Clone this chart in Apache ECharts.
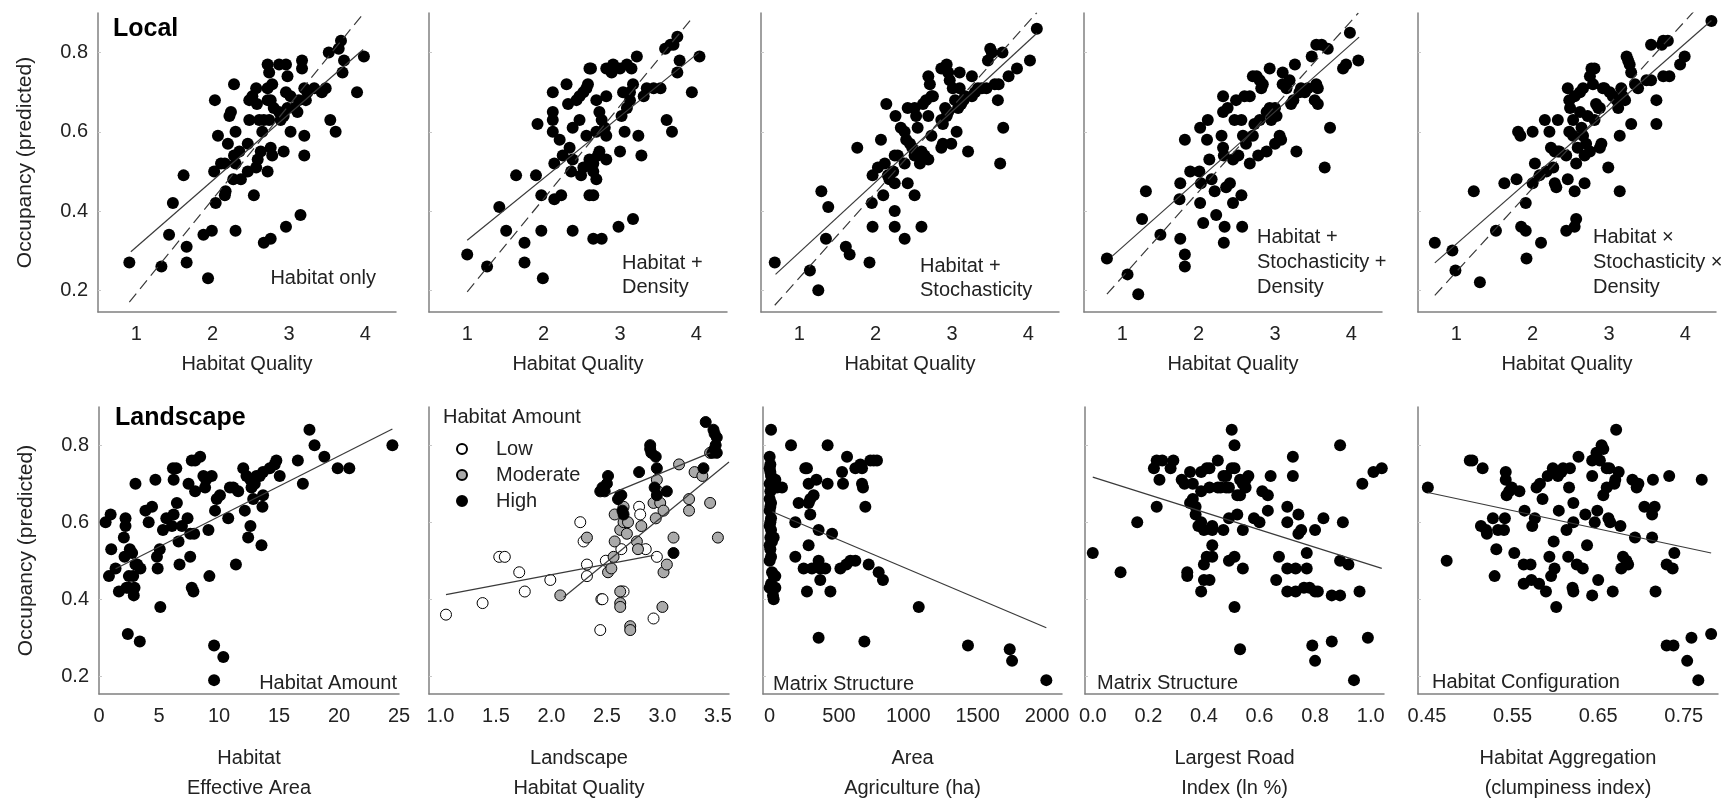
<!DOCTYPE html>
<html><head><meta charset="utf-8">
<script src="https://cdn.jsdelivr.net/npm/echarts@6/dist/echarts.min.js"></script>
<style>html,body{margin:0;padding:0;background:#fff}#c{width:1728px;height:804px}</style>
</head><body><div id="c"></div>
<script>
// ---------- tick labels ----------
const hqTicks = [1, 2, 3, 4];
const occTicks = [0.2, 0.4, 0.6, 0.8];
const effAreaTicks = [0, 5, 10, 15, 20, 25];
const landHQTicks = [1.0, 1.5, 2.0, 2.5, 3.0, 3.5];
const agriTicks = [0, 500, 1000, 1500, 2000];
const roadTicks = [0.0, 0.2, 0.4, 0.6, 0.8, 1.0];
const clumpTicks = [0.45, 0.55, 0.65, 0.75];

// ---------- Local: Habitat only ----------
const habitatOnly = [[0.91,0.27],[1.33,0.26],[1.43,0.34],[1.48,0.42],[1.62,0.49],[1.66,0.31],[1.66,0.27],[1.94,0.23],[1.88,0.34],[1.99,0.35],[2.30,0.35],[2.04,0.42],[2.03,0.68],[2.07,0.59],[2.02,0.50],[2.11,0.52],[2.16,0.52],[2.17,0.45],[2.16,0.44],[2.20,0.57],[2.22,0.64],[2.24,0.65],[2.28,0.72],[2.30,0.60],[2.28,0.54],[2.30,0.52],[2.35,0.55],[2.27,0.48],[2.37,0.48],[2.46,0.50],[2.48,0.68],[2.48,0.63],[2.46,0.57],[2.52,0.69],[2.57,0.71],[2.58,0.67],[2.61,0.63],[2.54,0.44],[2.57,0.51],[2.59,0.53],[2.63,0.55],[2.65,0.60],[2.67,0.63],[2.72,0.71],[2.72,0.68],[2.74,0.63],[2.78,0.72],[2.76,0.68],[2.80,0.66],[2.72,0.77],[2.74,0.75],[2.76,0.56],[2.78,0.54],[2.72,0.50],[2.67,0.32],[2.76,0.33],[2.87,0.77],[2.96,0.77],[2.98,0.74],[2.96,0.70],[2.87,0.65],[2.89,0.63],[2.93,0.64],[2.98,0.66],[3.02,0.69],[3.07,0.66],[3.11,0.65],[3.13,0.68],[3.02,0.60],[2.93,0.55],[2.96,0.36],[3.15,0.39],[3.17,0.78],[3.17,0.76],[3.20,0.71],[3.22,0.68],[3.24,0.70],[3.20,0.59],[3.20,0.54],[3.33,0.71],[3.43,0.70],[3.48,0.71],[3.52,0.80],[3.65,0.81],[3.68,0.83],[3.72,0.78],[3.70,0.75],[3.54,0.63],[3.61,0.60],[3.89,0.70],[3.98,0.79]];
const habitatOnlyFit = [[0.93,0.297],[3.97,0.808]];
const habitatOnlyRef = [[0.91,0.17],[3.97,0.898]];

// ---------- Local: Habitat + Density ----------
const habitatDensity = [[1.00,0.29],[1.26,0.26],[1.51,0.35],[1.42,0.41],[1.64,0.49],[1.75,0.32],[1.75,0.27],[1.90,0.49],[1.97,0.44],[1.97,0.35],[1.99,0.23],[2.12,0.70],[2.12,0.65],[2.12,0.63],[1.92,0.62],[2.12,0.60],[2.14,0.52],[2.14,0.43],[2.23,0.44],[2.21,0.58],[2.25,0.54],[2.30,0.72],[2.32,0.67],[2.34,0.56],[2.38,0.53],[2.36,0.50],[2.38,0.61],[2.38,0.35],[2.43,0.68],[2.47,0.69],[2.47,0.63],[2.49,0.49],[2.52,0.70],[2.56,0.71],[2.58,0.72],[2.60,0.76],[2.62,0.76],[2.56,0.59],[2.52,0.51],[2.60,0.53],[2.65,0.52],[2.65,0.50],[2.69,0.48],[2.65,0.44],[2.60,0.44],[2.69,0.68],[2.69,0.60],[2.73,0.65],[2.76,0.63],[2.80,0.61],[2.82,0.69],[2.82,0.59],[2.82,0.53],[2.73,0.55],[2.71,0.54],[2.65,0.33],[2.76,0.33],[2.82,0.76],[2.91,0.77],[2.89,0.75],[3.00,0.76],[3.04,0.70],[3.02,0.64],[3.09,0.66],[3.06,0.60],[3.00,0.55],[2.98,0.36],[3.17,0.38],[3.09,0.77],[3.15,0.76],[3.22,0.79],[3.13,0.68],[3.17,0.72],[3.13,0.70],[3.24,0.59],[3.28,0.54],[3.31,0.69],[3.35,0.71],[3.44,0.71],[3.53,0.71],[3.61,0.63],[3.68,0.60],[3.59,0.81],[3.66,0.82],[3.70,0.82],[3.75,0.84],[3.78,0.78],[3.75,0.75],[3.94,0.70],[4.04,0.79]];
const habitatDensityFit = [[1.00,0.326],[4.03,0.80]];
const habitatDensityRef = [[1.00,0.196],[3.93,0.884]];

// ---------- Local: Habitat + Stochasticity ----------
const habitatStoch = [[0.68,0.27],[1.14,0.25],[1.25,0.20],[1.29,0.45],[1.38,0.41],[1.35,0.33],[1.61,0.31],[1.66,0.29],[1.92,0.27],[1.76,0.56],[1.96,0.36],[1.95,0.42],[1.96,0.49],[2.07,0.58],[2.10,0.44],[2.03,0.51],[2.12,0.52],[2.14,0.67],[2.16,0.49],[2.18,0.48],[2.23,0.50],[2.25,0.47],[2.25,0.40],[2.25,0.36],[2.25,0.54],[2.26,0.64],[2.29,0.54],[2.33,0.61],[2.38,0.52],[2.38,0.33],[2.38,0.60],[2.40,0.58],[2.42,0.66],[2.42,0.47],[2.45,0.57],[2.48,0.56],[2.51,0.44],[2.51,0.66],[2.53,0.64],[2.51,0.54],[2.55,0.61],[2.58,0.52],[2.60,0.55],[2.64,0.54],[2.69,0.53],[2.62,0.67],[2.66,0.68],[2.69,0.64],[2.69,0.74],[2.71,0.72],[2.73,0.59],[2.73,0.69],[2.75,0.69],[2.60,0.36],[2.86,0.56],[2.88,0.57],[2.91,0.66],[2.86,0.63],[2.88,0.62],[2.93,0.64],[2.95,0.65],[2.86,0.76],[2.93,0.77],[2.95,0.75],[2.99,0.57],[2.97,0.73],[3.01,0.71],[3.04,0.68],[3.06,0.60],[3.08,0.66],[3.10,0.71],[3.10,0.75],[3.12,0.67],[3.15,0.68],[3.17,0.69],[3.21,0.55],[3.26,0.74],[3.26,0.69],[3.30,0.70],[3.34,0.71],[3.39,0.71],[3.45,0.71],[3.47,0.78],[3.50,0.81],[3.52,0.80],[3.56,0.72],[3.61,0.72],[3.60,0.68],[3.63,0.52],[3.67,0.61],[3.66,0.80],[3.74,0.74],[3.85,0.76],[4.02,0.78],[4.11,0.86]];
const habitatStochFit = [[0.69,0.24],[4.11,0.849]];
const habitatStochRef = [[0.68,0.162],[4.11,0.901]];

// ---------- Local: Habitat + Stochasticity + Density ----------
const habitatStochDensity = [[0.80,0.28],[1.07,0.24],[1.21,0.19],[1.31,0.45],[1.26,0.38],[1.50,0.34],[1.76,0.33],[1.82,0.29],[1.82,0.26],[1.82,0.58],[1.76,0.47],[1.75,0.43],[1.89,0.50],[2.01,0.50],[2.02,0.61],[2.03,0.47],[2.06,0.37],[2.02,0.42],[2.11,0.58],[2.12,0.63],[2.14,0.53],[2.17,0.48],[2.21,0.45],[2.23,0.39],[2.30,0.59],[2.32,0.69],[2.32,0.65],[2.32,0.56],[2.33,0.54],[2.34,0.36],[2.33,0.32],[2.36,0.46],[2.38,0.66],[2.41,0.47],[2.45,0.53],[2.45,0.42],[2.47,0.63],[2.49,0.68],[2.52,0.54],[2.56,0.63],[2.56,0.44],[2.57,0.36],[2.58,0.59],[2.60,0.69],[2.67,0.69],[2.62,0.57],[2.67,0.52],[2.71,0.59],[2.71,0.74],[2.73,0.62],[2.76,0.74],[2.78,0.54],[2.80,0.73],[2.82,0.71],[2.84,0.72],[2.80,0.63],[2.89,0.55],[2.89,0.65],[2.93,0.66],[2.93,0.76],[2.95,0.63],[2.97,0.65],[3.00,0.66],[3.00,0.57],[3.02,0.64],[3.06,0.59],[3.08,0.58],[3.10,0.75],[3.10,0.72],[3.15,0.71],[3.19,0.73],[3.21,0.67],[3.24,0.68],[3.26,0.77],[3.28,0.55],[3.32,0.70],[3.34,0.71],[3.39,0.70],[3.43,0.71],[3.52,0.68],[3.54,0.72],[3.56,0.67],[3.56,0.71],[3.48,0.79],[3.54,0.82],[3.61,0.82],[3.69,0.81],[3.72,0.61],[3.65,0.51],[3.89,0.76],[3.93,0.77],[4.09,0.78],[3.98,0.85]];
const habitatStochDensityFit = [[0.87,0.286],[4.10,0.839]];
const habitatStochDensityRef = [[0.80,0.19],[4.09,0.90]];

// ---------- Local: Habitat x Stochasticity x Density ----------
const habitatInteraction = [[0.72,0.32],[0.95,0.30],[0.99,0.25],[1.31,0.22],[1.23,0.45],[1.52,0.35],[1.63,0.47],[1.79,0.48],[1.81,0.60],[1.84,0.59],[1.91,0.42],[1.85,0.36],[1.91,0.35],[1.92,0.28],[2.00,0.60],[2.00,0.47],[2.03,0.52],[2.09,0.49],[2.11,0.32],[2.16,0.63],[2.18,0.50],[2.22,0.60],[2.24,0.56],[2.27,0.51],[2.29,0.47],[2.31,0.46],[2.33,0.63],[2.29,0.55],[2.33,0.55],[2.35,0.55],[2.44,0.35],[2.46,0.48],[2.44,0.54],[2.46,0.71],[2.48,0.60],[2.48,0.68],[2.49,0.66],[2.53,0.63],[2.53,0.59],[2.55,0.45],[2.55,0.69],[2.57,0.38],[2.55,0.36],[2.57,0.52],[2.59,0.56],[2.62,0.70],[2.62,0.65],[2.64,0.61],[2.66,0.71],[2.66,0.59],[2.68,0.54],[2.68,0.47],[2.70,0.57],[2.72,0.64],[2.75,0.55],[2.75,0.74],[2.77,0.76],[2.79,0.72],[2.81,0.76],[2.81,0.63],[2.83,0.67],[2.86,0.66],[2.88,0.66],[2.88,0.56],[2.90,0.57],[2.92,0.71],[2.94,0.71],[2.99,0.51],[3.01,0.70],[3.05,0.69],[3.10,0.68],[3.12,0.66],[3.14,0.59],[3.14,0.45],[3.16,0.71],[3.18,0.69],[3.21,0.68],[3.23,0.79],[3.25,0.78],[3.27,0.77],[3.29,0.75],[3.29,0.62],[3.34,0.72],[3.38,0.71],[3.49,0.73],[3.55,0.73],[3.55,0.82],[3.62,0.68],[3.62,0.62],[3.69,0.82],[3.71,0.83],[3.77,0.83],[3.71,0.74],[3.79,0.74],[3.93,0.77],[3.99,0.79],[4.34,0.88]];
const habitatInteractionFit = [[0.72,0.269],[4.34,0.881]];
const habitatInteractionRef = [[0.72,0.187],[4.11,0.904]];

// ---------- Landscape: Habitat Amount ----------
const habitatAmount = [[0.55,0.60],[0.97,0.62],[0.83,0.46],[1.02,0.53],[1.38,0.48],[1.66,0.42],[2.07,0.56],[2.13,0.51],[2.21,0.61],[2.21,0.59],[2.29,0.43],[2.40,0.31],[2.49,0.46],[2.49,0.43],[2.57,0.53],[2.76,0.52],[2.85,0.46],[2.90,0.41],[2.96,0.43],[3.04,0.70],[3.04,0.49],[3.18,0.49],[3.40,0.29],[3.45,0.48],[3.87,0.63],[4.14,0.60],[4.42,0.64],[4.70,0.71],[4.83,0.51],[4.89,0.48],[5.06,0.53],[5.11,0.38],[5.33,0.58],[5.61,0.61],[6.08,0.59],[6.16,0.74],[6.22,0.71],[6.44,0.74],[6.49,0.65],[6.22,0.62],[6.63,0.55],[6.71,0.49],[6.91,0.59],[7.38,0.61],[7.46,0.70],[7.60,0.51],[7.60,0.57],[7.73,0.43],[7.87,0.42],[7.93,0.57],[8.01,0.68],[7.73,0.76],[8.01,0.76],[8.43,0.77],[8.70,0.72],[8.84,0.69],[8.92,0.71],[9.12,0.58],[9.20,0.46],[9.39,0.72],[9.59,0.28],[9.67,0.63],[9.81,0.66],[10.08,0.67],[10.36,0.25],[9.59,0.19],[10.77,0.61],[10.91,0.69],[11.19,0.69],[11.41,0.49],[11.60,0.68],[12.02,0.74],[12.15,0.63],[12.29,0.72],[12.43,0.56],[12.62,0.59],[12.62,0.71],[12.71,0.69],[12.85,0.66],[12.98,0.70],[13.12,0.72],[13.40,0.72],[13.54,0.54],[13.62,0.64],[13.67,0.67],[13.67,0.73],[14.23,0.74],[14.64,0.75],[14.78,0.76],[15.06,0.72],[16.57,0.76],[16.99,0.70],[17.54,0.84],[17.96,0.80],[18.78,0.77],[19.89,0.74],[20.86,0.74],[24.45,0.80]];
const habitatAmountFit = [[1.38,0.479],[24.45,0.842]];

// ---------- Landscape: Habitat Quality by Habitat Amount ----------
const amountLow = [[1.05,0.36],[1.38,0.39],[1.53,0.51],[1.58,0.51],[1.71,0.47],[1.76,0.42],[1.99,0.45],[2.26,0.60],[2.29,0.55],[2.32,0.49],[2.32,0.46],[2.45,0.40],[2.46,0.40],[2.44,0.32],[2.49,0.50],[2.63,0.53],[2.63,0.42],[2.65,0.42],[2.79,0.64],[2.80,0.62],[2.85,0.53],[2.92,0.35],[2.95,0.51]];
const amountModerate = [[2.08,0.41],[2.32,0.56],[2.56,0.51],[2.51,0.47],[2.54,0.48],[2.57,0.55],[2.57,0.62],[2.62,0.58],[2.65,0.64],[2.65,0.60],[2.68,0.57],[2.69,0.60],[2.62,0.42],[2.62,0.39],[2.62,0.38],[2.71,0.33],[2.71,0.32],[2.77,0.55],[2.78,0.53],[2.81,0.59],[2.92,0.65],[2.94,0.61],[2.95,0.71],[2.96,0.68],[2.98,0.65],[3.01,0.63],[3.01,0.47],[3.04,0.49],[3.00,0.38],[3.10,0.56],[3.15,0.75],[3.24,0.66],[3.24,0.63],[3.29,0.73],[3.36,0.72],[3.43,0.65],[3.43,0.78],[3.50,0.56]];
const amountHigh = [[2.44,0.68],[2.46,0.69],[2.51,0.72],[2.50,0.70],[2.48,0.68],[2.60,0.66],[2.62,0.67],[2.63,0.67],[2.64,0.63],[2.65,0.62],[2.79,0.73],[2.89,0.80],[2.89,0.79],[2.90,0.78],[2.94,0.77],[2.95,0.74],[2.93,0.69],[2.95,0.67],[3.04,0.68],[3.10,0.52],[3.37,0.74],[3.39,0.86],[3.46,0.84],[3.47,0.83],[3.49,0.82],[3.48,0.80],[3.47,0.79],[3.49,0.78],[3.45,0.78]];
const amountLowFit = [[1.05,0.412],[2.92,0.514]];
const amountModerateFit = [[2.11,0.405],[3.60,0.756]];
const amountHighFit = [[2.51,0.671],[3.43,0.78]];

// ---------- Landscape: Agriculture area ----------
const agriculture = [[10,0.84],[0,0.77],[5,0.75],[0,0.74],[5,0.73],[10,0.72],[0,0.70],[17,0.69],[5,0.68],[0,0.66],[10,0.65],[5,0.64],[0,0.63],[10,0.61],[5,0.60],[0,0.59],[10,0.58],[5,0.56],[17,0.55],[0,0.54],[5,0.53],[10,0.51],[0,0.50],[17,0.47],[29,0.46],[10,0.44],[0,0.43],[24,0.41],[29,0.40],[41,0.71],[53,0.69],[89,0.69],[29,0.56],[41,0.46],[41,0.43],[154,0.80],[418,0.80],[558,0.77],[726,0.76],[750,0.76],[774,0.76],[257,0.74],[269,0.74],[618,0.74],[654,0.75],[666,0.74],[522,0.73],[529,0.70],[337,0.71],[281,0.70],[418,0.70],[666,0.70],[673,0.69],[317,0.67],[293,0.66],[281,0.65],[690,0.64],[209,0.65],[293,0.62],[185,0.60],[353,0.58],[450,0.57],[281,0.54],[185,0.51],[245,0.48],[305,0.48],[353,0.50],[365,0.48],[401,0.48],[510,0.48],[553,0.49],[582,0.50],[618,0.50],[714,0.49],[786,0.47],[817,0.45],[365,0.45],[269,0.42],[438,0.42],[1075,0.38],[353,0.30],[683,0.29],[1430,0.28],[1731,0.27],[1748,0.24],[1995,0.19]];
const agricultureFit = [[20,0.627],[1995,0.326]];

// ---------- Landscape: Largest Road Index ----------
const roadIndex = [[0.00,0.52],[0.10,0.47],[0.16,0.60],[0.23,0.64],[0.22,0.74],[0.23,0.76],[0.24,0.71],[0.25,0.76],[0.28,0.74],[0.29,0.76],[0.32,0.71],[0.33,0.70],[0.35,0.73],[0.35,0.65],[0.36,0.70],[0.37,0.64],[0.36,0.66],[0.37,0.62],[0.38,0.59],[0.39,0.68],[0.39,0.73],[0.39,0.60],[0.40,0.58],[0.41,0.74],[0.42,0.74],[0.42,0.69],[0.43,0.59],[0.43,0.58],[0.45,0.76],[0.45,0.69],[0.47,0.58],[0.46,0.69],[0.47,0.72],[0.48,0.69],[0.49,0.61],[0.48,0.72],[0.49,0.69],[0.50,0.74],[0.51,0.74],[0.50,0.84],[0.51,0.80],[0.52,0.67],[0.53,0.67],[0.52,0.62],[0.53,0.71],[0.54,0.70],[0.55,0.71],[0.55,0.69],[0.56,0.72],[0.54,0.58],[0.58,0.61],[0.60,0.60],[0.61,0.68],[0.63,0.67],[0.63,0.63],[0.64,0.72],[0.72,0.77],[0.72,0.72],[0.70,0.64],[0.70,0.60],[0.74,0.62],[0.74,0.57],[0.75,0.58],[0.80,0.58],[0.83,0.61],[0.90,0.60],[0.89,0.80],[0.97,0.70],[1.01,0.73],[1.04,0.74],[0.34,0.46],[0.34,0.47],[0.39,0.42],[0.40,0.45],[0.42,0.45],[0.40,0.49],[0.41,0.51],[0.43,0.51],[0.43,0.54],[0.49,0.50],[0.51,0.51],[0.54,0.48],[0.51,0.38],[0.53,0.27],[0.67,0.51],[0.66,0.45],[0.70,0.48],[0.73,0.48],[0.70,0.42],[0.73,0.42],[0.77,0.52],[0.77,0.48],[0.76,0.43],[0.78,0.43],[0.80,0.42],[0.81,0.42],[0.86,0.41],[0.89,0.41],[0.89,0.50],[0.92,0.49],[0.96,0.42],[0.79,0.28],[0.80,0.24],[0.86,0.29],[0.99,0.30],[0.94,0.19]];
const roadIndexFit = [[0.00,0.717],[1.04,0.48]];

// ---------- Landscape: Habitat Aggregation ----------
const aggregation = [[0.451,0.69],[0.473,0.50],[0.500,0.76],[0.503,0.76],[0.515,0.74],[0.513,0.59],[0.519,0.58],[0.520,0.57],[0.527,0.61],[0.529,0.46],[0.531,0.53],[0.533,0.58],[0.540,0.58],[0.541,0.61],[0.542,0.73],[0.542,0.71],[0.543,0.67],[0.546,0.68],[0.549,0.69],[0.552,0.52],[0.558,0.68],[0.563,0.49],[0.563,0.44],[0.564,0.63],[0.571,0.49],[0.572,0.45],[0.573,0.59],[0.576,0.61],[0.578,0.69],[0.582,0.70],[0.581,0.44],[0.585,0.66],[0.589,0.42],[0.591,0.72],[0.593,0.51],[0.595,0.46],[0.597,0.74],[0.598,0.55],[0.599,0.48],[0.601,0.38],[0.604,0.63],[0.603,0.72],[0.607,0.73],[0.609,0.74],[0.613,0.58],[0.615,0.51],[0.617,0.74],[0.616,0.69],[0.621,0.65],[0.621,0.60],[0.620,0.43],[0.621,0.42],[0.625,0.49],[0.627,0.77],[0.632,0.48],[0.635,0.62],[0.637,0.54],[0.643,0.72],[0.643,0.41],[0.643,0.76],[0.646,0.60],[0.649,0.63],[0.650,0.45],[0.648,0.78],[0.652,0.76],[0.654,0.80],[0.656,0.79],[0.656,0.67],[0.660,0.74],[0.660,0.69],[0.662,0.61],[0.664,0.60],[0.663,0.74],[0.667,0.42],[0.669,0.70],[0.670,0.71],[0.671,0.84],[0.674,0.73],[0.676,0.59],[0.677,0.48],[0.679,0.51],[0.683,0.50],[0.685,0.49],[0.690,0.71],[0.693,0.56],[0.695,0.69],[0.697,0.70],[0.704,0.64],[0.713,0.56],[0.714,0.71],[0.716,0.64],[0.713,0.62],[0.717,0.42],[0.730,0.49],[0.733,0.72],[0.737,0.48],[0.739,0.52],[0.730,0.28],[0.738,0.28],[0.754,0.24],[0.759,0.30],[0.767,0.19],[0.771,0.71],[0.782,0.31]];
const aggregationFit = [[0.451,0.677],[0.782,0.52]];

// ---------- layout ----------
const FONT = '"Liberation Sans", Arial, sans-serif';
const TXT = '#222';
const AX = '#808080';
const topRow = { top: 13, height: 299 };
const botRow = { top: 407, height: 296 };
const panels = [
  { row: topRow, left: 98, width: 298, xmin: 0.5, xmax: 4.4, ticks: hqTicks, dec: 0, name: 'Habitat Quality', yLab: true },
  { row: topRow, left: 429, width: 298, xmin: 0.5, xmax: 4.4, ticks: hqTicks, dec: 0, name: 'Habitat Quality' },
  { row: topRow, left: 761, width: 298, xmin: 0.5, xmax: 4.4, ticks: hqTicks, dec: 0, name: 'Habitat Quality' },
  { row: topRow, left: 1084, width: 298, xmin: 0.5, xmax: 4.4, ticks: hqTicks, dec: 0, name: 'Habitat Quality' },
  { row: topRow, left: 1418, width: 298, xmin: 0.5, xmax: 4.4, ticks: hqTicks, dec: 0, name: 'Habitat Quality' },
  { row: botRow, left: 99, width: 300, xmin: 0, xmax: 25, ticks: effAreaTicks, dec: 0, name: 'Habitat\nEffective Area', yLab: true },
  { row: botRow, left: 429, width: 300, xmin: 0.897, xmax: 3.6, ticks: landHQTicks, dec: 1, name: 'Landscape\nHabitat Quality' },
  { row: botRow, left: 763, width: 299, xmin: -48, xmax: 2108, ticks: agriTicks, dec: 0, name: 'Area\nAgriculture (ha)' },
  { row: botRow, left: 1085, width: 299, xmin: -0.028, xmax: 1.048, ticks: roadTicks, dec: 1, name: 'Largest Road\nIndex (ln %)' },
  { row: botRow, left: 1418, width: 300, xmin: 0.4395, xmax: 0.79, ticks: clumpTicks, dec: 2, name: 'Habitat Aggregation\n(clumpiness index)' }
];

const grid = [], xAxis = [], yAxis = [];
panels.forEach((p, i) => {
  const isTop = p.row === topRow;
  grid.push({ left: p.left, top: p.row.top, width: p.width, height: p.row.height, containLabel: false });
  xAxis.push({
    type: 'value', gridIndex: i, min: p.xmin, max: p.xmax,
    axisLine: { show: true, onZero: false, lineStyle: { color: AX, width: 1.5 } },
    axisTick: { show: false }, splitLine: { show: false },
    axisLabel: { customValues: p.ticks, formatter: v => v.toFixed(p.dec), fontSize: 20, color: TXT, fontFamily: FONT, margin: 12 },
    name: p.name, nameLocation: 'middle', nameGap: isTop ? 37 : 49,
    nameTextStyle: { fontSize: 20, color: TXT, fontFamily: FONT, lineHeight: 30, verticalAlign: 'top' }
  });
  yAxis.push({
    type: 'value', gridIndex: i, min: isTop ? 0.145 : 0.154, max: isTop ? 0.9 : 0.899,
    axisLine: { show: true, onZero: false, lineStyle: { color: AX, width: 1.5 } },
    axisTick: { show: true, inside: true, length: 3, customValues: occTicks, lineStyle: { color: '#c8c8c8' } },
    splitLine: { show: false },
    axisLabel: { show: !!p.yLab, customValues: occTicks, formatter: v => v.toFixed(1), fontSize: 20, color: TXT, fontFamily: FONT, margin: 10 },
    name: p.yLab ? 'Occupancy (predicted)' : '', nameLocation: 'middle', nameGap: 62,
    nameTextStyle: { fontSize: 21, color: TXT, fontFamily: FONT }
  });
});

const dots = (i, data, extra) => Object.assign({
  type: 'scatter', xAxisIndex: i, yAxisIndex: i, data, symbol: 'circle', symbolSize: 12,
  itemStyle: { color: '#000', opacity: 1 }, z: 2
}, extra || {});
const fit = (i, data, dashed) => ({
  type: 'line', xAxisIndex: i, yAxisIndex: i, data, symbol: 'none', z: 3,
  lineStyle: { color: '#3a3a3a', width: 1.2, type: dashed ? [11, 6] : 'solid' }
});

const series = [
  dots(0, habitatOnly), fit(0, habitatOnlyFit), fit(0, habitatOnlyRef, true),
  dots(1, habitatDensity), fit(1, habitatDensityFit), fit(1, habitatDensityRef, true),
  dots(2, habitatStoch), fit(2, habitatStochFit), fit(2, habitatStochRef, true),
  dots(3, habitatStochDensity), fit(3, habitatStochDensityFit), fit(3, habitatStochDensityRef, true),
  dots(4, habitatInteraction), fit(4, habitatInteractionFit), fit(4, habitatInteractionRef, true),
  dots(5, habitatAmount), fit(5, habitatAmountFit),
  dots(6, amountLow, { name: 'Low', symbolSize: 11, itemStyle: { color: '#fff', borderColor: '#000', borderWidth: 1, opacity: 1 } }),
  dots(6, amountModerate, { name: 'Moderate', symbolSize: 11, itemStyle: { color: '#aaaaaa', borderColor: '#000', borderWidth: 1, opacity: 1 } }),
  dots(6, amountHigh, { name: 'High', symbolSize: 11, itemStyle: { color: '#000', borderColor: '#000', borderWidth: 1, opacity: 1 } }),
  fit(6, amountLowFit), fit(6, amountModerateFit), fit(6, amountHighFit),
  dots(7, agriculture), fit(7, agricultureFit),
  dots(8, roadIndex), fit(8, roadIndexFit),
  dots(9, aggregation), fit(9, aggregationFit)
];

const txt = (x, y, text, opts) => ({
  type: 'text', x, y, silent: true,
  style: Object.assign({ text, font: '20px ' + FONT, fill: TXT, align: 'left', verticalAlign: 'middle' }, opts || {})
});
const graphic = [
  txt(113, 29, 'Local', { font: 'bold 25px ' + FONT, fill: '#000' }),
  txt(115, 418, 'Landscape', { font: 'bold 25px ' + FONT, fill: '#000' }),
  txt(376, 278, 'Habitat only', { align: 'right' }),
  txt(622, 251, 'Habitat +\nDensity', { verticalAlign: 'top', lineHeight: 24 }),
  txt(920, 254, 'Habitat +\nStochasticity', { verticalAlign: 'top', lineHeight: 24 }),
  txt(1257, 225, 'Habitat +\nStochasticity +\nDensity', { verticalAlign: 'top', lineHeight: 25 }),
  txt(1593, 225, 'Habitat \u00d7\nStochasticity \u00d7\nDensity', { verticalAlign: 'top', lineHeight: 25 }),
  txt(397, 683, 'Habitat Amount', { align: 'right' }),
  txt(773, 684, 'Matrix Structure'),
  txt(1097, 683, 'Matrix Structure'),
  txt(1432, 682, 'Habitat Configuration'),
  txt(443, 417, 'Habitat Amount')
];

const chart = echarts.init(document.getElementById('c'), null, { renderer: 'canvas' });
chart.setOption({
  animation: false,
  backgroundColor: '#fff',
  grid, xAxis, yAxis, series, graphic,
  legend: {
    data: ['Low', 'Moderate', 'High'], orient: 'vertical', left: 451, top: 434,
    itemWidth: 10, itemHeight: 10, itemGap: 6, selectedMode: false,
    itemStyle: { opacity: 1 },
    textStyle: { fontSize: 20, color: TXT, fontFamily: FONT, lineHeight: 20, padding: [0, 0, 0, 24] }
  }
});
</script>
</body></html>
